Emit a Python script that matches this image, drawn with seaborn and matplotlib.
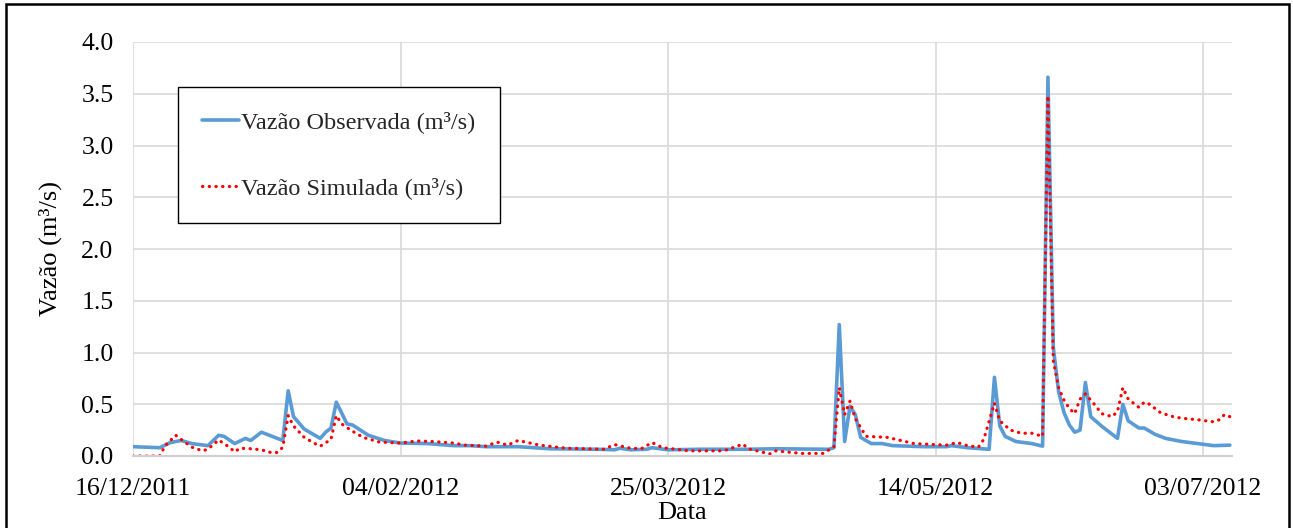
import numpy as np
import pandas as pd
import matplotlib
matplotlib.use("Agg")
import matplotlib.pyplot as plt
import matplotlib.dates as mdates
from matplotlib.patches import Rectangle
import seaborn as sns

# dias contados a partir de 16/12/2011
inicio = pd.Timestamp("2011-12-16")

obs_dia = [0, 5, 7, 9, 11, 14, 16, 17, 19, 21, 22, 24, 26, 28, 29, 30, 32, 35, 36, 37,
           38, 40, 41, 44, 47, 50, 55, 60, 63, 66, 72, 78, 87, 90, 91, 93, 96, 97, 100, 106,
           115, 120, 130, 131, 132, 133, 134, 135, 136, 138, 140, 142, 148, 152, 153, 156, 160, 161, 162, 163,
           165, 168, 170, 171, 172, 173, 174, 175, 176, 177, 178, 179, 181, 184, 185, 186, 188, 189, 191, 193,
           196, 199, 202, 205]
obs_vazao = [0.09, 0.08, 0.13, 0.15, 0.12, 0.10, 0.20, 0.19, 0.12, 0.17, 0.15, 0.23, 0.19, 0.15, 0.63, 0.38, 0.26, 0.17, 0.23, 0.27,
             0.52, 0.31, 0.30, 0.20, 0.15, 0.125, 0.12, 0.10, 0.10, 0.09, 0.09, 0.07, 0.065, 0.06, 0.075, 0.06, 0.065, 0.08, 0.06, 0.065,
             0.065, 0.07, 0.065, 0.08, 1.27, 0.14, 0.48, 0.40, 0.18, 0.12, 0.12, 0.10, 0.09, 0.09, 0.10, 0.08, 0.065, 0.76, 0.29, 0.19,
             0.14, 0.12, 0.095, 3.66, 1.05, 0.62, 0.42, 0.30, 0.23, 0.25, 0.71, 0.38, 0.29, 0.17, 0.50, 0.34, 0.27, 0.27, 0.21, 0.17,
             0.14, 0.12, 0.10, 0.105]

sim_dia = [0, 5, 6, 8, 9, 11, 13, 14, 16, 18, 19, 20, 22, 24, 26, 27, 28, 29, 30, 32,
           34, 35, 37, 38, 39, 41, 43, 46, 50, 53, 56, 60, 62, 66, 68, 70, 72, 76, 81, 88,
           90, 93, 95, 97, 99, 104, 110, 111, 114, 115, 119, 120, 125, 129, 131, 132, 133, 134, 135, 137,
           141, 146, 152, 154, 156, 158, 159, 161, 162, 164, 166, 168, 170, 171, 172, 173, 174, 175, 176, 177,
           178, 180, 181, 183, 184, 185, 186, 188, 189, 190, 192, 194, 196, 199, 202, 203, 204, 205]
sim_vazao = [0.0, 0.0, 0.10, 0.20, 0.16, 0.085, 0.05, 0.065, 0.155, 0.085, 0.04, 0.075, 0.07, 0.06, 0.03, 0.035, 0.085, 0.39, 0.29, 0.18,
             0.12, 0.095, 0.16, 0.39, 0.31, 0.24, 0.18, 0.135, 0.125, 0.145, 0.14, 0.125, 0.105, 0.095, 0.135, 0.105, 0.15, 0.105, 0.075, 0.065,
             0.11, 0.075, 0.07, 0.13, 0.08, 0.05, 0.05, 0.06, 0.115, 0.07, 0.02, 0.05, 0.025, 0.025, 0.09, 0.66, 0.40, 0.53, 0.36, 0.19,
             0.18, 0.12, 0.105, 0.13, 0.10, 0.085, 0.16, 0.51, 0.34, 0.25, 0.22, 0.22, 0.19, 3.48, 0.92, 0.66, 0.54, 0.46, 0.41, 0.55,
             0.60, 0.48, 0.41, 0.38, 0.43, 0.66, 0.55, 0.47, 0.52, 0.50, 0.42, 0.385, 0.365, 0.35, 0.33, 0.35, 0.40, 0.38]

obs = pd.DataFrame({"Data": inicio + pd.to_timedelta(obs_dia, unit="D"), "Vazao": obs_vazao})
sim = pd.DataFrame({"Data": inicio + pd.to_timedelta(sim_dia, unit="D"), "Vazao": sim_vazao})

sns.set_theme(style="whitegrid")
plt.rcParams["font.family"] = ["Liberation Serif", "DejaVu Serif"]

fig = plt.figure(figsize=(12.93, 5.28), dpi=100)
ax = fig.add_axes([133 / 1293, 1 - 456 / 528, 1099 / 1293, 414 / 528])

sns.lineplot(data=obs, x="Data", y="Vazao", ax=ax, color="#5B9BD5", lw=2.6,
             label="Vazão Observada (m³/s)")
sns.lineplot(data=sim, x="Data", y="Vazao", ax=ax, color="#FF0000", lw=2.3,
             linestyle=(0, (0.1, 2.0)), dash_capstyle="round",
             label="Vazão Simulada (m³/s)")

ax.set_xlim(inicio, inicio + pd.Timedelta(days=205.4))
ax.set_ylim(0, 4)
ax.set_yticks(np.arange(0, 4.01, 0.5))
ax.yaxis.set_major_formatter(matplotlib.ticker.FormatStrFormatter("%.1f"))
ax.set_xticks([inicio + pd.Timedelta(days=d) for d in range(0, 201, 50)])
ax.xaxis.set_major_formatter(mdates.DateFormatter("%d/%m/%Y"))

ax.grid(True, color="#D9D9D9", lw=1.2)
for s in ["top", "right", "left"]:
    ax.spines[s].set_visible(False)
ax.spines["bottom"].set_color("#D0D0D0")
ax.spines["bottom"].set_linewidth(1.5)
ax.tick_params(axis="both", length=0, labelsize=18.5, colors="black")
ax.tick_params(axis="x", pad=16)
ax.tick_params(axis="y", pad=14)

ax.set_xlabel("Data", fontsize=19, color="black", labelpad=1)
ax.set_ylabel("Vazão (m³/s)", fontsize=19, color="black", labelpad=14)

leg = ax.legend(loc="upper left", bbox_to_anchor=(178 / 1293, 1 - 87 / 528),
                bbox_transform=fig.transFigure, fontsize=17.5, frameon=True,
                fancybox=False, edgecolor="black", framealpha=1, borderpad=1.0,
                borderaxespad=0, labelspacing=1.8, handlelength=1.5, handletextpad=0.1)
leg.get_frame().set_linewidth(1.0)

fig.patches.append(Rectangle((6 / 1293, -0.05), 1283 / 1293, 1.05 - 4 / 528,
                             transform=fig.transFigure, fill=False,
                             edgecolor="black", lw=1.8))

fig.savefig("out.png", dpi=100)
